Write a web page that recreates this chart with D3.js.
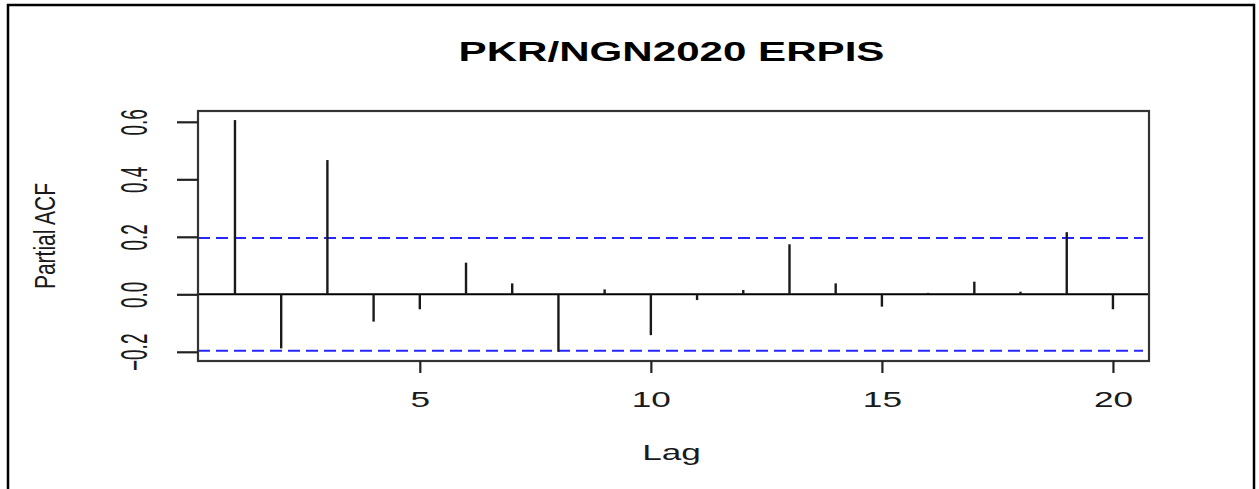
<!DOCTYPE html>
<html>
<head>
<meta charset="utf-8">
<script src="https://cdn.jsdelivr.net/npm/d3@7"></script>
<style>
  body { margin: 0; background: #fff; }
  text { font-family: "Liberation Sans", Arial, sans-serif; fill: #1a1a1a; }
</style>
</head>
<body>
<div id="pacf_chart"></div>
<script>
// partial autocorrelation by lag
const lags = [1, 2, 3, 4, 5, 6, 7, 8, 9, 10, 11, 12, 13, 14, 15, 16, 17, 18, 19, 20];
const pacf = [0.606, -0.188, 0.467, -0.095, -0.052, 0.110, 0.038, -0.200, 0.017, -0.142,
              -0.020, 0.015, 0.174, 0.038, -0.043, 0.005, 0.044, 0.009, 0.216, -0.052];
const confBand = [0.196, -0.196];
const xTicks = [5, 10, 15, 20];
const yTicks = [-0.2, 0.0, 0.2, 0.4, 0.6];
const title = "PKR/NGN2020 ERPIS";
const xLabel = "Lag";
const yLabel = "Partial ACF";

const width = 1259;
const height = 489;
const plot = {left: 198, right: 1149, top: 111, bottom: 361};

const x = d3.scaleLinear().domain([0.2, 20.78]).range([plot.left, plot.right]);
const y = d3.scaleLinear().domain([-0.232, 0.6376]).range([plot.bottom, plot.top]);

const svg = d3.select("#pacf_chart").append("svg")
    .attr("width", width)
    .attr("height", height);

// outer frame
svg.append("rect")
    .attr("x", 8).attr("y", 5)
    .attr("width", 1246).attr("height", 500)
    .attr("fill", "none")
    .attr("stroke", "#000")
    .attr("stroke-width", 2.5);

// confidence band
svg.selectAll("line.conf")
  .data(confBand)
  .join("line")
    .attr("class", "conf")
    .attr("x1", plot.left).attr("x2", plot.right - 6)
    .attr("y1", d => y(d)).attr("y2", d => y(d))
    .attr("stroke", "#2626ff")
    .attr("stroke-width", 2)
    .attr("stroke-dasharray", "12,6");

// zero line
svg.append("line")
    .attr("x1", plot.left).attr("x2", plot.right)
    .attr("y1", y(0)).attr("y2", y(0))
    .attr("stroke", "#000")
    .attr("stroke-width", 2);

// spikes
svg.selectAll("line.spike")
  .data(lags.map((l, i) => ({lag: l, value: pacf[i]})))
  .join("line")
    .attr("class", "spike")
    .attr("x1", d => x(d.lag)).attr("x2", d => x(d.lag))
    .attr("y1", y(0)).attr("y2", d => y(d.value))
    .attr("stroke", "#1a1a1a")
    .attr("stroke-width", 2.4);

// plot box
svg.append("rect")
    .attr("x", plot.left).attr("y", plot.top)
    .attr("width", plot.right - plot.left)
    .attr("height", plot.bottom - plot.top)
    .attr("fill", "none")
    .attr("stroke", "#333")
    .attr("stroke-width", 2.2);

// x axis
const gx = svg.append("g")
    .attr("transform", `translate(0,${plot.bottom})`)
    .call(d3.axisBottom(x).tickValues(xTicks).tickFormat(d3.format("d")).tickSize(12).tickPadding(0));
gx.select(".domain").remove();
gx.selectAll(".tick line").attr("stroke", "#222").attr("stroke-width", 2.2);
gx.selectAll(".tick text")
    .attr("y", null).attr("dy", null)
    .attr("font-size", 22)
    .attr("fill", "#1a1a1a")
    .attr("text-anchor", "middle")
    .attr("transform", "translate(0,46) scale(1.6,1)");

// y axis
const gy = svg.append("g")
    .attr("transform", `translate(${plot.left},0)`)
    .call(d3.axisLeft(y).tickValues(yTicks).tickFormat(d3.format(".1f")).tickSize(21).tickPadding(0));
gy.select(".domain").remove();
gy.selectAll(".tick line").attr("stroke", "#222").attr("stroke-width", 2.2);
gy.selectAll(".tick text")
    .attr("x", null).attr("dy", null)
    .attr("font-size", 19)
    .attr("fill", "#1a1a1a")
    .attr("text-anchor", "middle")
    .attr("transform", "translate(-51,0) scale(1.9,1) rotate(-90)");

// title
svg.append("text")
    .attr("transform", `translate(${(plot.left + plot.right) / 2 - 2},61) scale(1.56,1)`)
    .attr("text-anchor", "middle")
    .attr("font-size", 27)
    .attr("font-weight", "bold")
    .style("fill", "#000")
    .text(title);

// axis labels
svg.append("text")
    .attr("transform", `translate(${(plot.left + plot.right) / 2 - 2},460) scale(1.6,1)`)
    .attr("text-anchor", "middle")
    .attr("font-size", 22)
    .text(xLabel);

svg.append("text")
    .attr("transform", "translate(55,236) scale(1.4,1) rotate(-90)")
    .attr("text-anchor", "middle")
    .attr("font-size", 21)
    .text(yLabel);
</script>
</body>
</html>
